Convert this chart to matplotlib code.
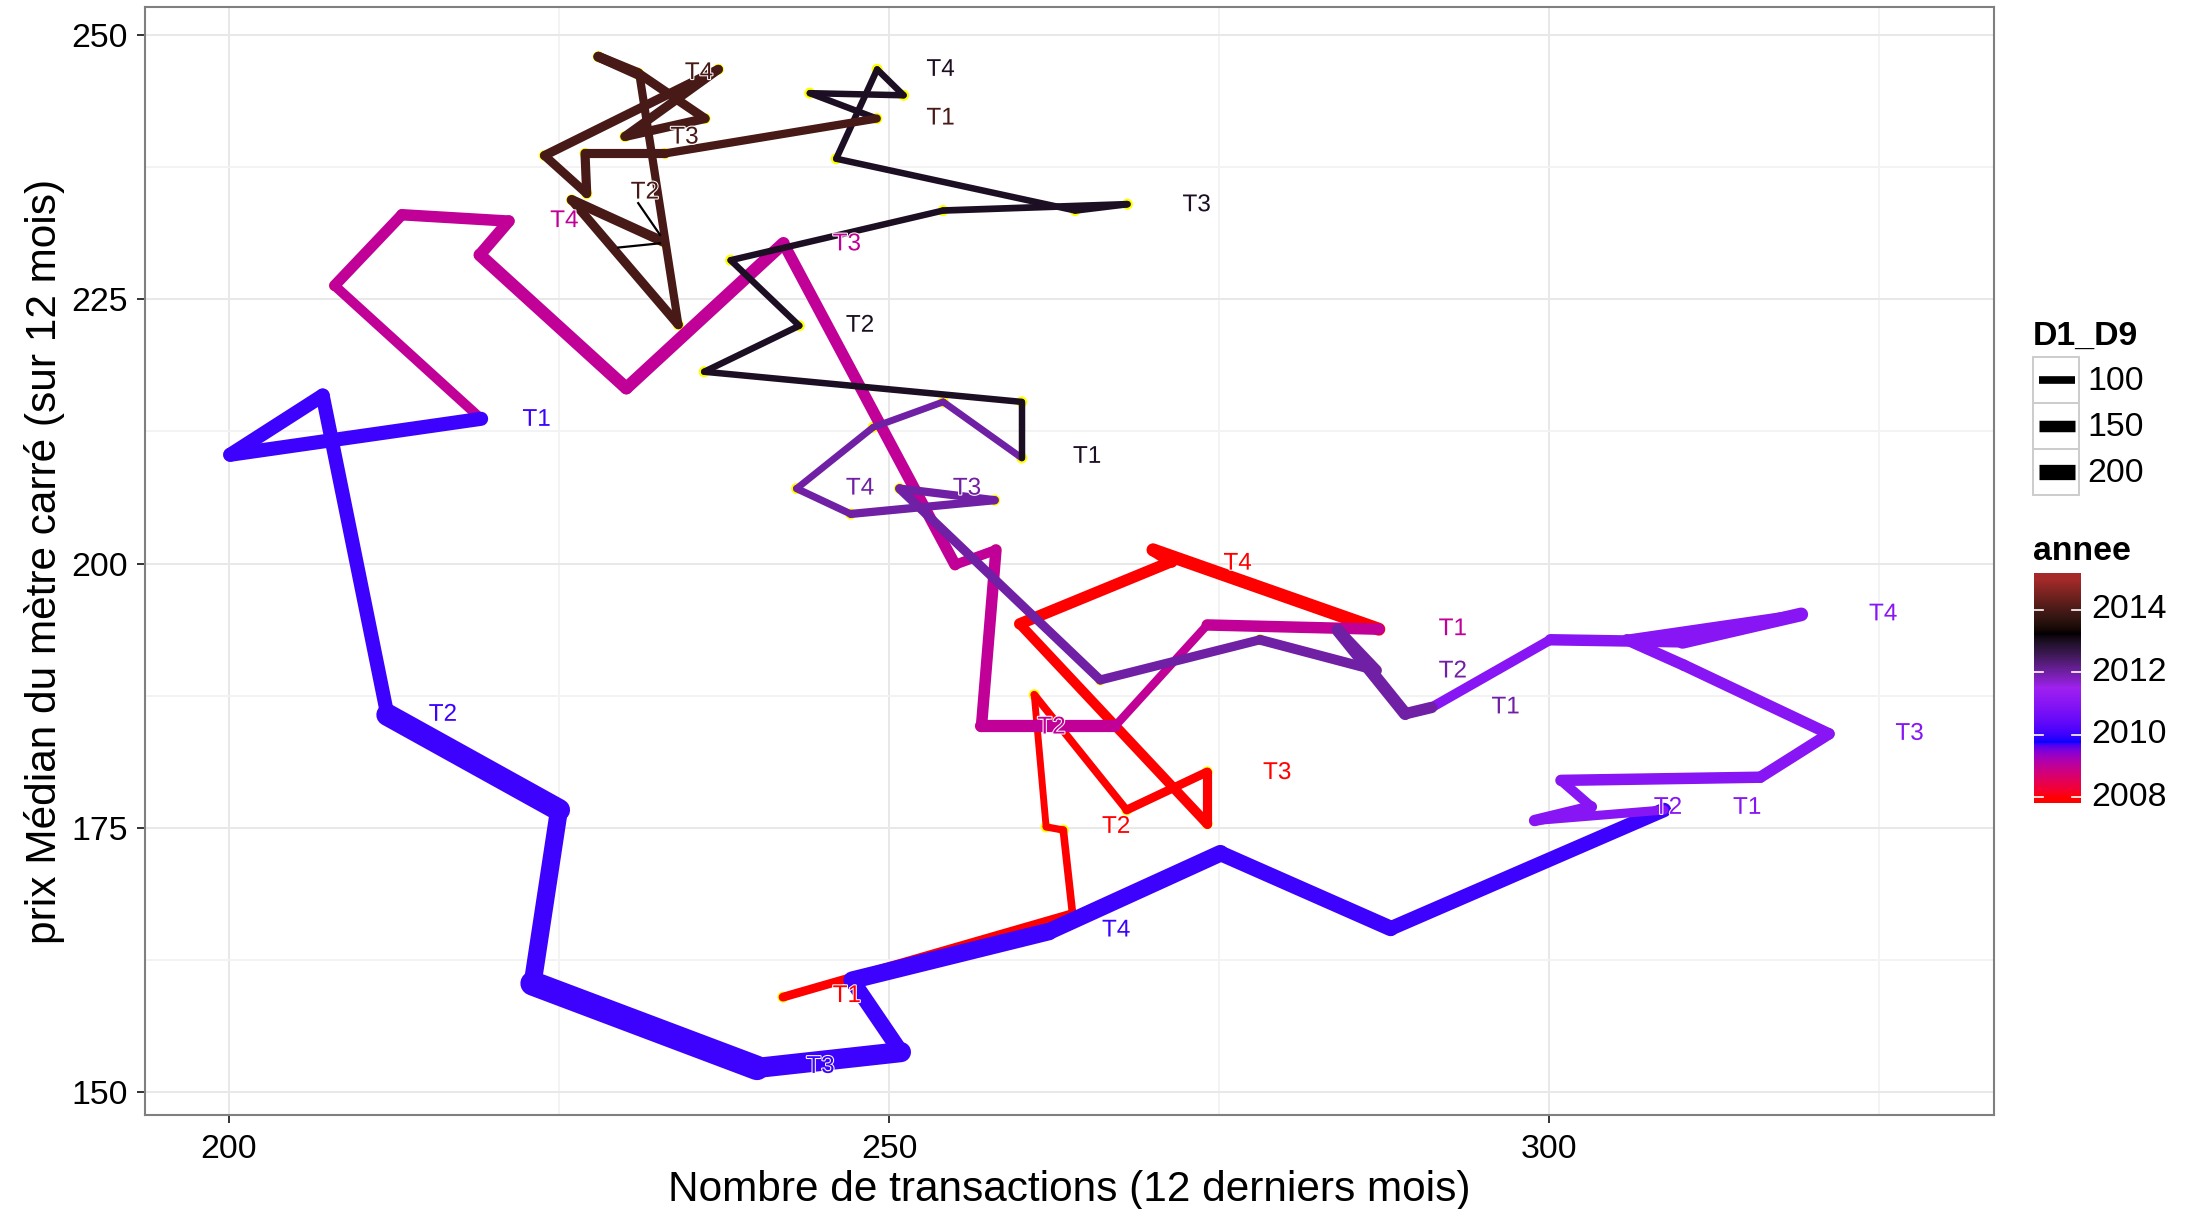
import numpy as np
import matplotlib
matplotlib.use("Agg")
import matplotlib.pyplot as plt
import matplotlib.colors as mcolors
import matplotlib.patheffects as pe
from matplotlib.collections import LineCollection
from matplotlib.patches import Rectangle

plt.rcParams['font.family'] = ['Liberation Sans', 'DejaVu Sans']

# points du chemin, dans l'ordre chronologique
trans = [241.97, 263.9, 263.2, 261.9, 261.0, 268.0, 274.1, 274.1, 259.9, 271.4, 270.0,
         287.1, 274.1, 267.1, 257.0, 258.1, 255.0, 242.0, 230.1, 219.0, 221.2, 213.1, 208.0,
         219.1, 200.1, 207.1, 212.0, 225.0, 223.0, 240.0, 250.9, 247.2, 262.1, 275.1, 288.0,
         308.7, 298.9, 303.2, 300.9, 316.0, 321.2, 310.2, 305.9, 319.1, 310.1, 300.1,
         291.1, 289.1, 284.0, 286.9, 278.1, 266.0, 250.8, 258.0, 247.1, 243.0, 248.8, 254.1,
         260.05, 260.05, 236.0, 243.2, 238.0, 254.1, 268.05, 264.1, 246.0, 249.1, 251.1, 244.0,
         249.07, 233.03, 226.97, 227.1, 223.9, 237.07, 230.0, 236.06, 231.0, 227.98, 231.1, 234.04, 225.96,
         232.9]
prix = [159.0, 166.9, 174.8, 175.1, 187.6, 176.7, 180.3, 175.4, 194.3, 200.2, 201.3,
        193.8, 194.2, 184.6, 184.6, 201.3, 199.9, 230.3, 216.6, 229.2, 232.4, 233.0, 226.3,
        213.7, 210.3, 215.9, 185.7, 176.7, 160.3, 152.3, 153.8, 160.6, 165.2, 172.6, 165.5,
        176.7, 175.7, 177.0, 179.5, 179.8, 183.9, 190.4, 192.8, 195.2, 192.6, 192.8,
        186.4, 185.8, 193.7, 189.9, 192.8, 189.0, 207.1, 206.0, 204.7, 207.1, 212.9, 215.3,
        210.0, 215.3, 218.15, 222.5, 228.7, 233.4, 234.0, 233.4, 238.3, 246.75, 244.3, 244.5,
        242.1, 238.8, 238.8, 235.0, 238.6, 246.75, 240.4, 242.1, 246.4, 247.95, 246.2, 222.6, 234.4,
        230.45]
annee = [2008] * 11 + [2009] * 12 + [2010] * 12 + [2011] * 11 + [2012] * 12 + [2013] * 12 + [2014] * 13 + [2015]
d1_d9 = [115, 100, 95, 90, 100, 115, 120, 130, 150, 165, 170,
         150, 110, 160, 150, 130, 150, 165, 165, 155, 150, 145, 130,
         185, 185, 185, 290, 235, 320, 265, 205, 230, 220, 205, 190,
         120, 150, 130, 150, 150, 150, 150, 135, 180, 150, 130,
         150, 165, 150, 130, 120, 120, 108, 108, 96, 90, 90, 90,
         85, 85, 85, 85, 85, 88, 88, 85, 85, 85, 85, 85,
         108, 120, 120, 115, 120, 120, 120, 120, 130, 130, 108, 120, 130,
         125]

# étiquettes trimestrielles
lab_txt = ['T1', 'T2', 'T3', 'T4'] * 7
lab_annee = [2008] * 4 + [2009] * 4 + [2010] * 4 + [2011] * 4 + [2012] * 4 + [2013] * 4 + [2014] * 4
lab_x = [246.8, 267.2, 279.4, 276.4,
         292.7, 262.3, 246.8, 225.4,
         223.3, 216.2, 244.8, 267.2,
         315.0, 309.0, 327.3, 325.3,
         296.7, 292.7, 255.9, 247.8,
         265.0, 247.8, 273.3, 253.9,
         253.9, 231.5, 234.5, 235.6]
lab_y = [159.1, 175.1, 180.2, 200.0,
         193.8, 184.5, 230.2, 232.4,
         213.6, 185.7, 152.4, 165.3,
         176.9, 176.9, 183.9, 195.2,
         186.4, 189.8, 207.1, 207.1,
         210.1, 222.5, 233.9, 246.7,
         242.1, 235.1, 240.3, 246.4]

# segments fins (ggrepel)
seg_x0 = [231.0, 229.5]
seg_y0 = [234.1, 229.9]
seg_x1 = [232.65, 232.65]
seg_y1 = [231.1, 230.3]

legend_sizes = [100, 150, 200]
cbar_ticks = [2008, 2010, 2012, 2014]


# dégradé en espace Lab (comme scale_colour_gradientn)
WHITE = np.array([0.95047, 1.0, 1.08883])
M = np.array([[0.4124, 0.3576, 0.1805], [0.2126, 0.7152, 0.0722], [0.0193, 0.1192, 0.9505]])
MINV = np.linalg.inv(M)


def to_lab(c):
    rgb = np.array(mcolors.to_rgb(c))
    lin = np.where(rgb <= 0.04045, rgb / 12.92, ((rgb + 0.055) / 1.055) ** 2.4)
    xyz = M @ lin / WHITE
    f = np.where(xyz > (6 / 29) ** 3, np.cbrt(xyz), xyz / (3 * (6 / 29) ** 2) + 4 / 29)
    return np.array([116 * f[1] - 16, 500 * (f[0] - f[1]), 200 * (f[1] - f[2])])


def from_lab(lab):
    fy = (lab[0] + 16) / 116
    f = np.array([fy + lab[1] / 500, fy, fy - lab[2] / 200])
    xyz = np.where(f > 6 / 29, f ** 3, 3 * (6 / 29) ** 2 * (f - 4 / 29)) * WHITE
    lin = MINV @ xyz
    lin = np.clip(lin, 0, 1)
    rgb = np.where(lin <= 0.0031308, 12.92 * lin, 1.055 * lin ** (1 / 2.4) - 0.055)
    return np.clip(rgb, 0, 1)


nodes = [to_lab(c) for c in ['#FF0000', '#0000FF', '#A020F0', '#000000', '#A52A2A']]
cols = []
for t in np.linspace(0, 1, 256):
    p = t * (len(nodes) - 1)
    i = min(int(p), len(nodes) - 2)
    cols.append(from_lab(nodes[i] + (p - i) * (nodes[i + 1] - nodes[i])))
cmap = mcolors.ListedColormap(cols)
norm = mcolors.Normalize(2008, 2015)


def lw(d):
    return 0.055 * d


W, H = 2193, 1209
fig = plt.figure(figsize=(W / 100, H / 100), dpi=100)
ax = fig.add_axes([145 / W, 1 - 1115 / H, (1994 - 145) / W, (1115 - 7) / H])

x = np.array(trans)
y = np.array(prix)
pts = np.column_stack([x, y])
segs = np.stack([pts[:-1], pts[1:]], axis=1)
lc = LineCollection(segs, colors=cmap(norm(np.array(annee[:-1]))),
                    linewidths=[lw(d) for d in d1_d9[:-1]],
                    capstyle='round', joinstyle='round', zorder=3)
ax.scatter(x, y, s=64, color='#FFFF00', edgecolors='none', zorder=2)
ax.add_collection(lc)

for i in range(len(seg_x0)):
    ax.plot([seg_x0[i], seg_x1[i]], [seg_y0[i], seg_y1[i]], color='black', lw=1.6, zorder=4)

for t, lx, ly, a in zip(lab_txt, lab_x, lab_y, lab_annee):
    ax.text(lx, ly, t, color=cmap(norm(a)), fontsize=17.5, ha='center', va='center', zorder=5,
            path_effects=[pe.withStroke(linewidth=1.5, foreground='white')])

ax.set_xlim(193.64, 333.7)
ax.set_ylim(147.85, 252.65)
ax.set_xticks([200, 250, 300])
ax.set_xticks([225, 275, 325], minor=True)
ax.set_yticks([150, 175, 200, 225, 250])
ax.set_yticks([162.5, 187.5, 212.5, 237.5], minor=True)
ax.grid(which='major', color='#E8E8E8', lw=1.4)
ax.grid(which='minor', color='#F3F3F3', lw=1.4)
ax.set_axisbelow(True)
ax.tick_params(which='major', length=5.5, width=1.4, color='#333333', labelsize=24.4, labelcolor='black')
ax.tick_params(axis='x', pad=8.5)
ax.tick_params(axis='y', pad=7)
ax.tick_params(which='minor', length=0)
for s in ax.spines.values():
    s.set_color('#7F7F7F')
    s.set_linewidth(1.5)
ax.set_xlabel('Nombre de transactions (12 derniers mois)', fontsize=30.5, labelpad=3)
ax.set_ylabel('prix Médian du mètre carré (sur 12 mois)', fontsize=30.5, labelpad=4)

# légendes
lg = fig.add_axes([0, 0, 1, 1], facecolor='none')
lg.set_xlim(0, W)
lg.set_ylim(H, 0)
lg.axis('off')
lg.text(2033, 336, 'D1_D9', fontsize=24.4, fontweight='bold', va='center', ha='left')
for i, v in enumerate(legend_sizes):
    top = 357 + 46 * i
    lg.add_patch(Rectangle((2033, top), 46, 46, facecolor='white', edgecolor='#CCCCCC', lw=1.4))
    lg.plot([2039, 2075], [top + 23, top + 23], color='black', lw=lw(v), solid_capstyle='butt')
    lg.text(2087, top + 24, str(v), fontsize=24.4, va='center', ha='left')
lg.text(2033, 552, 'annee', fontsize=24.4, fontweight='bold', va='center', ha='left')

lo, hi = 2008 - 7 / 38, 2015 + 7 / 38
cax = fig.add_axes([2034 / W, 1 - 803 / H, 47 / W, 230 / H])
grad = np.linspace(lo, hi, 400)[:, None]
cax.imshow(grad, aspect='auto', cmap=cmap, norm=norm, origin='lower', extent=[0, 1, lo, hi])
cax.set_xlim(0, 1)
cax.set_ylim(lo, hi)
cax.axis('off')
for t in cbar_ticks:
    cax.plot([0, 0.2], [t, t], color='white', lw=1.2)
    cax.plot([0.8, 1], [t, t], color='white', lw=1.2)
    cax.text(1.22, t, str(t), fontsize=24.4, va='center', ha='left', clip_on=False)

fig.savefig('out.png', dpi=100)
